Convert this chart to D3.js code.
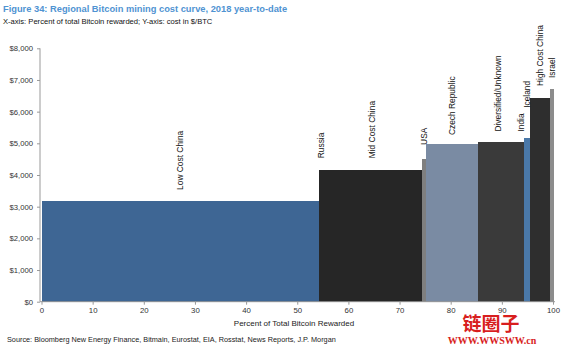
<!DOCTYPE html>
<html><head><meta charset="utf-8">
<script src="https://cdn.jsdelivr.net/npm/d3@7"></script>
<style>
html,body{margin:0;padding:0;background:#fff;}
svg{display:block;font-family:"Liberation Sans",Arial,sans-serif;}
</style></head>
<body><div id="chart"></div>
<script>
const regions = ["Low Cost China","Russia","Mid Cost China","USA","Czech Republic","Diversified/Unknown","India","Iceland","High Cost China","Israel"];
const sharePct = [54.3, 0.7, 19.4, 0.8, 10.2, 7.6, 1.4, 1.1, 4.0, 0.7];
const costUSD = [3180, 4160, 4160, 4500, 4970, 5050, 5050, 5160, 6420, 6710];
const labelAtUSD = [3530, 4530, 4530, 4950, 5260, 5370, 5370, 6120, 6810, 7060];
const barColors = ["#3e6694","#262626","#262626","#7f7f7f","#7a8ba3","#3a3a3a","#3a3a3a","#4a78a8","#2e2e2e","#8c8c8c"];
const xTicks = [0,10,20,30,40,50,60,70,80,90,100];
const yTicks = [0,1000,2000,3000,4000,5000,6000,7000,8000];

const W = 563, H = 348;
const svg = d3.select("#chart").append("svg").attr("width", W).attr("height", H);

const x = d3.scaleLinear().domain([0,100]).range([41.5,553]);
const y = d3.scaleLinear().domain([0,8000]).range([301.7,48.3]);

// title
svg.append("text").attr("x",3).attr("y",12).attr("fill","#4f93d2")
  .style("font-weight","bold").style("font-size","9.3px")
  .text("Figure 34: Regional Bitcoin mining cost curve, 2018 year-to-date");
svg.append("text").attr("x",3).attr("y",23.5).attr("fill","#111")
  .style("font-size","7.6px")
  .text("X-axis: Percent of total Bitcoin rewarded; Y-axis: cost in $/BTC");

// bars
let cum = 0;
const bars = regions.map((r,i)=>{ const b = {r, x0:cum, x1:cum+sharePct[i], v:costUSD[i], l:labelAtUSD[i], c:barColors[i]}; cum += sharePct[i]; return b; });

svg.append("g").selectAll("rect").data(bars).join("rect")
  .attr("x", d=>x(d.x0)).attr("width", d=>x(d.x1)-x(d.x0))
  .attr("y", d=>y(d.v)).attr("height", d=>y(0)-y(d.v))
  .attr("fill", d=>d.c).attr("shape-rendering","crispEdges");

// labels
svg.append("g").selectAll("text").data(bars).join("text")
  .attr("transform", d=>`translate(${x((d.x0+d.x1)/2)},${y(d.l)}) rotate(-90)`)
  .attr("dominant-baseline","central")
  .style("font-size","8.4px").attr("fill","#111")
  .text(d=>d.r);

// axes
const yAxis = d3.axisLeft(y).tickValues(yTicks).tickSize(3).tickPadding(4)
  .tickFormat(d=>"$"+d3.format(",")(d));
const gy = svg.append("g").attr("transform","translate(40,0)").call(yAxis);
gy.selectAll("text").style("font-size","7.7px").attr("fill","#333").style("font-family","Liberation Sans, Arial, sans-serif");
gy.selectAll("line").attr("stroke","#999");
gy.select(".domain").attr("stroke","#999").attr("d","M0,"+y(8000)+"V"+y(0));

const xAxis = d3.axisBottom(x).tickValues(xTicks).tickSize(3).tickPadding(3);
const gx = svg.append("g").attr("transform",`translate(0,${y(0)})`).call(xAxis);
gx.selectAll("text").style("font-size","7.8px").attr("fill","#333").style("font-family","Liberation Sans, Arial, sans-serif");
gx.selectAll("line").attr("stroke","#999");
gx.select(".domain").attr("stroke","#999").attr("d","M40,0H555");

svg.append("text").attr("x",294).attr("y",326).attr("text-anchor","middle")
  .style("font-size","8px").attr("fill","#222").text("Percent of Total Bitcoin Rewarded");

svg.append("text").attr("x",7).attr("y",342).style("font-size","7.3px").attr("fill","#222")
  .text("Source: Bloomberg New Energy Finance, Bitmain, Eurostat, EIA, Rosstat, News Reports, J.P. Morgan");

// watermark
svg.append("text").attr("x",491).attr("y",331).attr("text-anchor","middle")
  .style("font-family","Noto Sans CJK SC").style("font-weight","bold").style("font-size","19px")
  .attr("fill","#d81e1e").text("链圈子");
svg.append("text").attr("x",492).attr("y",344).attr("text-anchor","middle")
  .style("font-family","Liberation Serif, serif").style("font-weight","bold").style("font-size","10px")
  .attr("fill","#d81e1e").text("WWW.WWSWW.cn");
</script></body></html>
